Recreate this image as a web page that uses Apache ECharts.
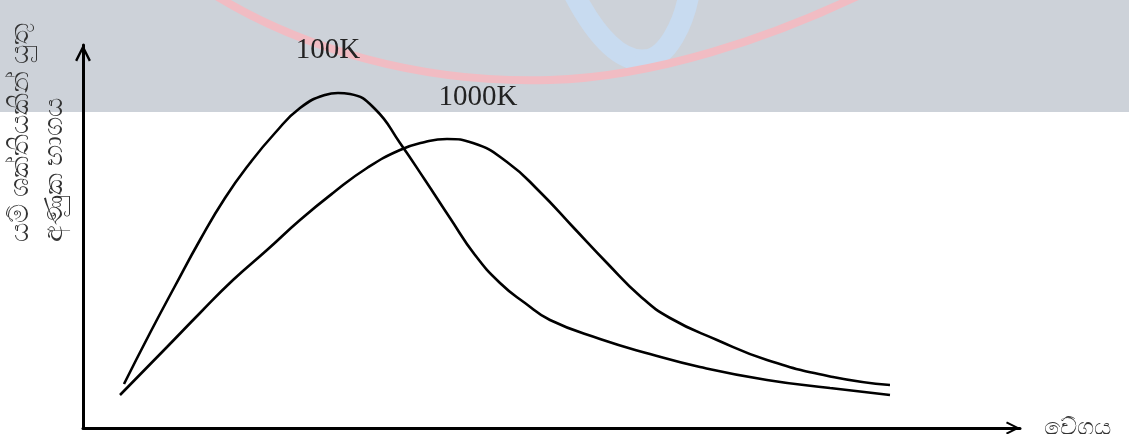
<!DOCTYPE html>
<html>
<head>
<meta charset="utf-8">
<script src="https://cdn.jsdelivr.net/npm/echarts@6/dist/echarts.min.js"></script>
<style>
  html, body { margin: 0; padding: 0; background: #fff; }
  #chart { width: 1129px; height: 434px; }
</style>
</head>
<body>
<div id="chart"></div>
<script>
// values (arbitrary units: speed vs fraction)
const speed100 = [41, 67, 92, 117, 142, 167, 192, 217, 242, 255, 267, 292, 317, 342, 367, 392, 417, 442, 467, 517, 567, 617, 684, 747, 807]
const frac100 = [44, 95, 142, 188, 230, 265, 295, 320, 333, 335, 334, 319, 285, 248, 210, 173, 145, 125, 108, 89, 74, 61, 48, 40, 33]

const speed1000 = [37, 84, 117, 150, 184, 217, 250, 284, 317, 342, 364, 390, 424, 457, 490, 524, 557, 587, 634, 684, 750, 807]
const frac1000 = [33, 81, 115, 148, 178, 208, 235, 260, 278, 286, 289, 285, 266, 236, 201, 165, 132, 110, 88, 68, 51, 43]

const seriesNames = ['100K', '1000K']
const xName = 'වේගය'
const yName = 'යම් ශක්තියකින් යුතු\nඅණුක භාගය'

const chart = echarts.init(document.getElementById('chart'))

// open chevron arrow head, pointing up
const arrowPath = 'path://M0,12 L6,0 L12,12 L10.4,12.9 L6,4 L1.6,12.9 Z'

function pairs(xs, ys) {
  return xs.map((x, i) => [x, ys[i]])
}

function curve(name, xs, ys, offset) {
  return {
    name: name,
    type: 'line',
    smooth: 0.5,
    showSymbol: false,
    lineStyle: { color: '#000', width: 2.6 },
    data: pairs(xs, ys),
    markPoint: {
      symbol: 'circle',
      symbolSize: 1,
      itemStyle: { color: 'rgba(0,0,0,0)' },
      data: [{ type: 'max' }],
      label: {
        show: true,
        position: 'inside',
        offset: offset,
        formatter: name,
        fontFamily: 'Liberation Serif',
        fontSize: 29,
        color: '#222'
      }
    }
  }
}

// watermark stroke, one bezier piece
function wm(shape, color, width, z) {
  return {
    type: 'bezierCurve', z: z, silent: true,
    shape: shape,
    style: { stroke: color, lineWidth: width, fill: null, lineCap: 'round' }
  }
}

chart.setOption({
  animation: false,
  backgroundColor: '#fff',
  grid: { left: 83, right: 109, top: 45, bottom: 6, outerBoundsMode: 'none' },
  graphic: [
    {
      type: 'rect', z: -10, silent: true,
      shape: { x: 0, y: 0, width: 1129, height: 112 },
      style: { fill: '#cdd2d9' }
    },
    // faint watermark behind the top band
    wm({ x1: 574, y1: -6, cpx1: 598, cpy1: 40, cpx2: 622, cpy2: 62, x2: 645, y2: 60 }, '#c8dbf0', 21, -9),
    wm({ x1: 645, y1: 60, cpx1: 668, cpy1: 58, cpx2: 684, cpy2: 22, x2: 689, y2: -6 }, '#c8dbf0', 21, -9),
    wm({ x1: 213, y1: -6, cpx1: 300, cpy1: 48, cpx2: 420, cpy2: 84, x2: 550, y2: 80 }, '#f1bcc3', 8, -8),
    wm({ x1: 550, y1: 80, cpx1: 655, cpy1: 77, cpx2: 770, cpy2: 38, x2: 862, y2: -6 }, '#f1bcc3', 8, -8),
    {
      type: 'text', silent: true,
      x: 3, y: 242, rotation: Math.PI / 2,
      style: {
        text: yName,
        fontFamily: 'Noto Sans',
        fontSize: 27,
        lineHeight: 34,
        fill: '#333',
        align: 'left',
        verticalAlign: 'top'
      }
    }
  ],
  xAxis: {
    type: 'value',
    min: 0,
    max: 937,
    name: xName,
    nameLocation: 'end',
    nameGap: 24,
    nameTextStyle: { fontFamily: 'Noto Sans', fontSize: 24, color: '#333', padding: [0, 0, 22, 0] },
    axisLine: {
      lineStyle: { color: '#000', width: 3 },
      symbol: ['none', arrowPath],
      symbolSize: [20, 14],
      symbolOffset: [0, -7]
    },
    axisTick: { show: false },
    axisLabel: { show: false },
    splitLine: { show: false }
  },
  yAxis: {
    type: 'value',
    min: 0,
    max: 383,
    axisLine: {
      show: true,
      lineStyle: { color: '#000', width: 3 },
      symbol: ['none', arrowPath],
      symbolSize: [21, 17],
      symbolOffset: [0, -8]
    },
    axisTick: { show: false },
    axisLabel: { show: false },
    splitLine: { show: false }
  },
  series: [
    curve(seriesNames[0], speed100, frac100, [-10, -43]),
    curve(seriesNames[1], speed1000, frac1000, [31, -42])
  ]
})
</script>
</body>
</html>
